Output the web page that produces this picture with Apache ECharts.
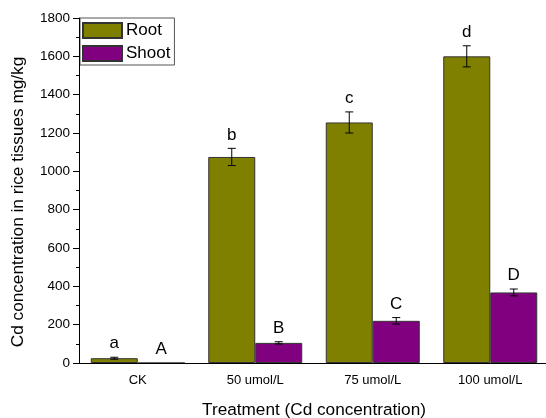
<!DOCTYPE html>
<html>
<head>
<meta charset="utf-8">
<script src="https://cdn.jsdelivr.net/npm/echarts@6/dist/echarts.min.js"></script>
<style>html,body{margin:0;padding:0;background:#fff}#c{width:546px;height:418px}</style>
</head>
<body>
<div id="c"></div>
<script>
var categories = ['CK', '50 umol/L', '75 umol/L', '100 umol/L'];
var rootMean = [25, 1075, 1255, 1600];
var rootErr = [5, 45, 55, 55];
var shootMean = [0, 105, 220, 368];
var shootErr = [0, 6, 17, 18];
var rootLetters = ['a', 'b', 'c', 'd'];
var shootLetters = ['A', 'B', 'C', 'D'];
var yTicks = { min: 0, max: 1800, interval: 200 };
var yTitle = 'Cd concentration in rice tissues mg/kg';
var xTitle = 'Treatment (Cd concentration)';

var FONT = 'Liberation Sans, Arial, sans-serif';
var ROOT_COLOR = '#808000';
var SHOOT_COLOR = '#800080';

function errSeries(means, errs, letters, side) {
  var data = means.map(function (m, i) { return [i, m, errs[i]]; });
  return {
    type: 'custom',
    xAxisIndex: 0,
    silent: true,
    z: 10,
    data: data,
    renderItem: function (params, api) {
      var i = api.value(0), m = api.value(1), e = api.value(2);
      var band = api.size([1, 0])[0];
      var c = api.coord([i, m]);
      var x = c[0] + side * band * 0.2;
      var yTop = api.coord([i, m + e])[1];
      var yBot = api.coord([i, m - e])[1];
      var cap = 4;
      var children = [];
      if (e > 0) {
        var ls = { stroke: '#000', lineWidth: 1 };
        children.push({ type: 'line', shape: { x1: x, y1: yTop, x2: x, y2: yBot }, style: ls });
        children.push({ type: 'line', shape: { x1: x - cap, y1: yTop, x2: x + cap, y2: yTop }, style: ls });
        children.push({ type: 'line', shape: { x1: x - cap, y1: yBot, x2: x + cap, y2: yBot }, style: ls });
      }
      var ty = (e > 0 ? yTop : c[1]) - 5;
      children.push({
        type: 'text',
        style: {
          x: x, y: ty, text: letters[params.dataIndex],
          fill: '#000', font: '17px ' + FONT,
          textAlign: 'center', textVerticalAlign: 'bottom'
        }
      });
      return { type: 'group', children: children };
    }
  };
}

var chart = echarts.init(document.getElementById('c'), null, { renderer: 'canvas' });
chart.setOption({
  animation: false,
  backgroundColor: '#fff',
  textStyle: { fontFamily: FONT },
  grid: { left: 79, top: 18, width: 470, height: 345, containLabel: false, outerBoundsMode: 'none' },
  graphic: [{
    type: 'text',
    x: 18, y: 202,
    rotation: Math.PI / 2,
    silent: true,
    style: {
      text: yTitle, fill: '#000', font: '17.2px ' + FONT,
      textAlign: 'center', textVerticalAlign: 'middle'
    }
  }],
  legend: {
    left: 80, top: 18,
    orient: 'vertical',
    data: ['Root', 'Shoot'],
    itemWidth: 39, itemHeight: 15, itemGap: 6,
    padding: [4, 4, 3, 2],
    borderColor: '#555', borderWidth: 1,
    backgroundColor: '#fff',
    textStyle: { fontSize: 17, color: '#000', fontFamily: FONT, padding: [0, 0, 0, -1] },
    icon: 'rect'
  },
  xAxis: [{
    type: 'category',
    data: categories,
    z: 5,
    name: xTitle,
    nameLocation: 'middle',
    nameGap: 39,
    nameTextStyle: { fontSize: 17.2, color: '#000', fontFamily: FONT },
    axisLine: { lineStyle: { color: '#000', width: 1 } },
    axisTick: { alignWithLabel: true, length: 6, lineStyle: { color: '#000' } },
    axisLabel: { fontSize: 13, color: '#000', margin: 11, fontFamily: FONT },
    splitLine: { show: false }
  }, {
    type: 'category',
    data: categories,
    position: 'bottom',
    z: 5,
    axisLine: { show: false },
    axisTick: { length: 3, lineStyle: { color: '#000' } },
    axisLabel: { show: false },
    splitLine: { show: false }
  }],
  yAxis: {
    type: 'value',
    min: yTicks.min, max: yTicks.max, interval: yTicks.interval,
    z: 5,
    axisLine: { show: true, lineStyle: { color: '#000', width: 1 } },
    axisTick: { show: true, length: 6, lineStyle: { color: '#000' } },
    minorTick: { show: true, splitNumber: 2, length: 3, lineStyle: { color: '#000' } },
    axisLabel: { fontSize: 13.5, color: '#000', margin: 9, fontFamily: FONT,
      formatter: function (v) { return String(v); } },
    splitLine: { show: false }
  },
  series: [{
    name: 'Root', type: 'bar', data: rootMean,
    barWidth: '40%', barGap: '0%',
    itemStyle: { color: ROOT_COLOR, borderColor: '#333', borderWidth: 1 }
  }, {
    name: 'Shoot', type: 'bar', data: shootMean,
    barWidth: '40%', barGap: '0%',
    itemStyle: { color: SHOOT_COLOR, borderColor: '#333', borderWidth: 1 }
  },
  errSeries(rootMean, rootErr, rootLetters, -1),
  errSeries(shootMean, shootErr, shootLetters, 1)
  ]
});
</script>
</body>
</html>
